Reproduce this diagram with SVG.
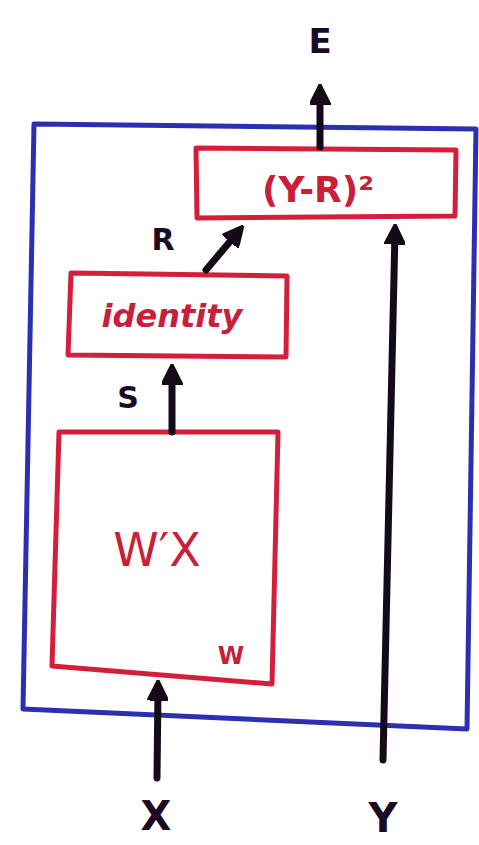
<svg xmlns="http://www.w3.org/2000/svg" width="479" height="845" viewBox="0 0 479 845">
<defs>
<marker id="ah" viewBox="0 0 10 10" refX="6" refY="5" markerWidth="3" markerHeight="3" orient="auto" markerUnits="strokeWidth">
<path d="M0,0 L10,5 L0,10 Z" fill="#140a18" stroke="#140a18" stroke-linejoin="round"/>
</marker>
<style>
.frame{fill:none;stroke:#2b2fb0;stroke-width:5;stroke-linejoin:round}
.box{fill:#fff;stroke:#d31f3c;stroke-width:5;stroke-linejoin:round}
.edge{fill:none;stroke:#140a18;stroke-width:7;stroke-linecap:round;marker-end:url(#ah)}
.lbl{font-family:"DejaVu Sans",sans-serif;font-weight:bold;fill:#1a0a22;text-anchor:middle}
.rt{font-family:"DejaVu Sans",sans-serif;fill:#c8203a;text-anchor:middle}
</style>
</defs>
<g id="frame"><path class="frame" d="M34,124 L476,129 L467,729 L23,709 Z"/></g>
<g id="loss"><path class="box" d="M196,148 L456,150 L455,216 L197,218 Z"/><text class="rt" x="318" y="202" font-size="36" font-weight="bold">(Y-R)²</text></g>
<g id="identity"><path class="box" d="M71,273 L287,276 L286,357 L68,355 Z"/><text class="rt" x="172" y="327" font-size="32" font-style="italic" font-weight="bold">identity</text></g>
<g id="linear"><path class="box" d="M59,432 L278,432 L272,684 L52,666 Z"/><text class="rt" x="157" y="566" font-size="46">W′X</text><text class="rt" x="231" y="664" font-size="24" font-weight="bold">W</text></g>
<g id="connectors">
<path class="edge" d="M320,147 L320,92"/>
<path class="edge" d="M206,270 L238,232"/>
<path class="edge" d="M172,432 L172,372"/>
<path class="edge" d="M157,778 L158,688"/>
<path class="edge" d="M383,760 L395,232"/>
</g>
<g id="labels">
<text class="lbl" x="320" y="53" font-size="34">E</text>
<text class="lbl" x="163" y="250" font-size="30">R</text>
<text class="lbl" x="128" y="408" font-size="30">S</text>
<text class="lbl" x="156" y="830" font-size="40">X</text>
<text class="lbl" x="383" y="832" font-size="40">Y</text>
</g>
</svg>
